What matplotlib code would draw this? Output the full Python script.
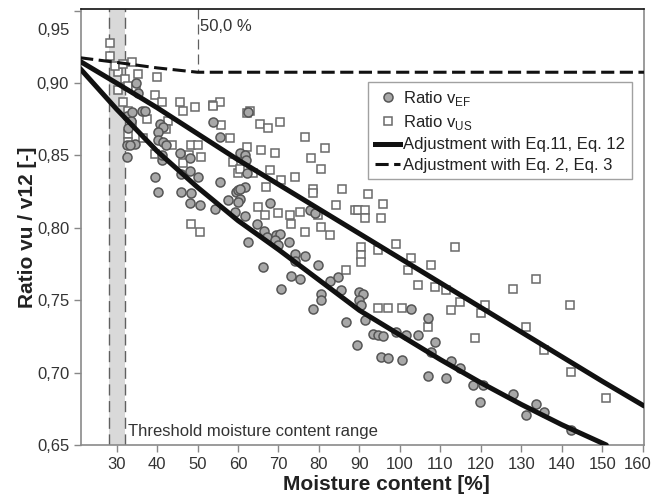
import numpy as np
import matplotlib
matplotlib.use("Agg")
import matplotlib.pyplot as plt
from matplotlib.ticker import FuncFormatter
from matplotlib.lines import Line2D

plt.rcParams['font.family'] = ['Liberation Sans', 'DejaVu Sans']
plt.rcParams['mathtext.fontset'] = 'custom'
plt.rcParams['mathtext.rm'] = 'Liberation Sans'

# ratio v_EF (circles)
ef_x = [32.5, 33.5, 34.9, 35.3, 36.2, 33.7, 37.0, 40.7, 41.5, 40.3, 32.9, 34.5, 40.3, 41.5,
        42.3, 32.5, 33.3, 32.5, 41.1, 41.1, 39.5, 40.3, 45.6, 48.1, 53.9, 55.5, 46.0, 48.1,
        50.2, 46.0, 48.5, 48.1, 50.6, 54.3, 55.5, 57.6, 59.6, 60.4, 59.2, 61.7, 60.0, 60.1,
        61.7, 62.5, 64.6, 66.3, 67.9, 67.1, 69.5, 70.3, 72.5, 60.4, 61.7, 62.0, 62.1, 60.4,
        62.5, 77.7, 79.0, 69.1, 69.9, 74.0, 76.5, 74.0, 79.8, 66.2, 73.2, 75.3, 70.7, 82.7,
        84.7, 85.5, 80.6, 80.6, 78.5, 90.0, 90.9, 90.0, 90.5, 86.8, 91.3, 89.3, 93.4, 94.6,
        95.8, 99.1, 101.6, 104.5, 102.8, 107.0, 108.6, 107.8, 95.4, 97.0, 100.4, 112.7,
        114.8, 107.0, 111.5, 118.0, 120.5, 119.7, 127.9, 131.2, 133.7, 135.7, 142.3]
ef_y = [0.877, 0.874, 0.900, 0.893, 0.881, 0.880, 0.881, 0.872, 0.870, 0.866, 0.869, 0.858,
        0.861, 0.859, 0.857, 0.857, 0.857, 0.849, 0.847, 0.850, 0.835, 0.825, 0.852, 0.848,
        0.873, 0.863, 0.8375, 0.839, 0.835, 0.825, 0.824, 0.817, 0.816, 0.813, 0.832, 0.819,
        0.825, 0.820, 0.811, 0.828, 0.826, 0.818, 0.808, 0.790, 0.803, 0.798, 0.817, 0.794,
        0.795, 0.796, 0.790, 0.852, 0.850, 0.847, 0.838, 0.827, 0.880, 0.812, 0.810, 0.7915,
        0.788, 0.782, 0.7805, 0.777, 0.774, 0.773, 0.767, 0.765, 0.758, 0.763, 0.766, 0.757,
        0.754, 0.750, 0.744, 0.756, 0.754, 0.750, 0.747, 0.735, 0.736, 0.719, 0.727, 0.726,
        0.725, 0.728, 0.726, 0.726, 0.744, 0.7375, 0.7214, 0.7145, 0.711, 0.710, 0.709, 0.708,
        0.703, 0.698, 0.696, 0.6915, 0.6915, 0.680, 0.685, 0.671, 0.678, 0.673, 0.6605]

# ratio v_US (squares)
us_x = [28.3, 28.3, 33.7, 30.4, 32.0, 35.3, 39.9, 32.9, 34.9, 30.4, 39.5, 41.1, 31.6, 32.9,
        37.4, 42.7, 45.6, 46.5, 49.3, 53.9, 55.5, 33.7, 32.9, 42.3, 32.9, 43.6, 48.5, 50.2,
        36.5, 29.5, 31.5, 47.8, 50.8, 46.4, 39.5, 48.5, 50.5, 53.8, 62.9, 62.3, 65.4, 67.4,
        70.3, 76.5, 81.4, 78.1, 80.6, 55.9, 58.0, 62.1, 65.8, 69.1, 58.7, 60.0, 60.4, 63.7,
        67.9, 74.0, 70.7, 78.5, 85.6, 67.0, 78.5, 64.9, 66.6, 69.9, 72.8, 75.3, 73.2, 76.5,
        80.6, 82.7, 79.7, 84.3, 86.8, 88.8, 92.1, 95.8, 89.7, 91.3, 91.3, 95.4, 99.1, 90.5,
        113.5, 90.5, 90.5, 94.5, 102.8, 107.8, 102.0, 104.5, 108.6, 111.5, 114.8, 112.7,
        120.1, 120.9, 94.6, 97.0, 100.4, 107.0, 118.5, 133.7, 127.9, 141.9, 131.2, 135.7,
        142.3, 151.0]
us_y = [0.928, 0.919, 0.9145, 0.9076, 0.903, 0.9065, 0.904, 0.898, 0.895, 0.895, 0.8915,
        0.887, 0.887, 0.881, 0.8755, 0.874, 0.887, 0.881, 0.8834, 0.8846, 0.887, 0.871, 0.865,
        0.8685, 0.859, 0.857, 0.857, 0.857, 0.862, 0.912, 0.913, 0.850, 0.849, 0.845, 0.851,
        0.803, 0.797, 0.884, 0.881, 0.879, 0.872, 0.869, 0.873, 0.863, 0.855, 0.848, 0.841,
        0.871, 0.862, 0.856, 0.8536, 0.852, 0.8455, 0.838, 0.841, 0.838, 0.840, 0.835, 0.833,
        0.827, 0.827, 0.828, 0.824, 0.8145, 0.809, 0.810, 0.809, 0.811, 0.803, 0.797, 0.8007,
        0.795, 0.809, 0.8157, 0.771, 0.812, 0.8237, 0.8168, 0.8122, 0.8122, 0.8065, 0.8065,
        0.789, 0.787, 0.787, 0.781, 0.7766, 0.7845, 0.7789, 0.774, 0.7708, 0.7605, 0.7593,
        0.757, 0.749, 0.7433, 0.741, 0.7467, 0.7444, 0.7444, 0.7444, 0.7317, 0.7237, 0.765,
        0.758, 0.7467, 0.7317, 0.7157, 0.7007, 0.6823]

# fitted curves (Eq.11 / Eq.12 and Eq.2 / Eq.3)
fit_ef_x = [21, 30, 40, 50, 60, 70, 80, 90, 100, 110, 120, 130, 140, 151]
fit_ef_y = [0.910, 0.882, 0.853, 0.828, 0.805, 0.785, 0.764, 0.743, 0.726, 0.709, 0.693,
            0.678, 0.664, 0.650]
fit_us_x = [21, 30, 40, 50, 60, 70, 80, 90, 100, 110, 120, 130, 140, 150, 160.3]
fit_us_y = [0.915, 0.900, 0.883, 0.865, 0.847, 0.830, 0.813, 0.796, 0.779, 0.762, 0.745,
            0.728, 0.711, 0.694, 0.677]
eq2_x = [21, 30, 40, 50, 160.3]
eq2_y = [0.9175, 0.9143, 0.9105, 0.9075, 0.9075]

x_ticks = list(range(30, 161, 10))
y_ticks = [0.65, 0.70, 0.75, 0.80, 0.85, 0.90, 0.95]

fig = plt.figure(figsize=(6.52, 5.01), dpi=100)
ax = fig.add_axes([0.1242, 0.1118, 0.8635, 0.8697])

ax.axvspan(28, 32, color='#d9d9d9', lw=0, zorder=0)
for xv in (28, 32):
    ax.axvline(xv, color='#606060', lw=1.0, ls=(0, (8, 4)), zorder=1)
ax.plot([50, 50], [0.951, 0.9075], color='#606060', lw=0.9, ls=(0, (8, 4)), zorder=1)

ax.plot(us_x, us_y, ls='none', marker='s', ms=6, mfc='white', mec='#6a6a6a', mew=1.1, zorder=3)
ax.plot(ef_x, ef_y, ls='none', marker='o', ms=6.5, mfc='#a8a8a8', mec='#555555', mew=1.1, zorder=3)

ax.plot(fit_ef_x, fit_ef_y, color='#111111', lw=3.6, solid_capstyle='round', zorder=4)
ax.plot(fit_us_x, fit_us_y, color='#111111', lw=3.6, solid_capstyle='round', zorder=4)
ax.plot(eq2_x, eq2_y, color='#111111', lw=2.2, ls=(0, (4.3, 1.8)), zorder=4)

ax.text(50.6, 0.939, '50,0 %', fontsize=12, color='#333333', va='center', ha='left')
ax.text(32.8, 0.659, 'Threshold moisture content range', fontsize=12, color='#333333',
        va='center', ha='left')

ax.set_xlim(21.2, 160.3)
ax.set_ylim(0.65, 0.951)
ax.set_xticks(x_ticks)
ax.set_yticks(y_ticks)

def y_fmt(v, pos):
    if v > 0.949:
        return ''
    return f'{v:.2f}'.replace('.', ',')

def x_fmt(v, pos):
    if v > 159:
        return ''
    return f'{v:.0f}'

ax.yaxis.set_major_formatter(FuncFormatter(y_fmt))
ax.xaxis.set_major_formatter(FuncFormatter(x_fmt))
# the outermost labels sit slightly inside the frame
ax.text(-0.02, 0.9365, '0,95', transform=ax.get_yaxis_transform(), ha='right', va='center',
        fontsize=12, color='#333333')
ax.annotate('160', xy=(160, 0), xycoords=('data', 'axes fraction'), xytext=(-3.5, -9),
            textcoords='offset points', ha='center', va='top', fontsize=12, color='#333333')
ax.tick_params(axis='both', direction='out', length=5, width=1, color='#888888',
               labelcolor='#333333', labelsize=12)
ax.tick_params(axis='x', pad=4)

for side in ('left', 'bottom', 'right'):
    ax.spines[side].set_color('#8a8a8a')
    ax.spines[side].set_linewidth(1.2)
ax.spines['top'].set_color('#111111')
ax.spines['top'].set_linewidth(1.2)

ax.set_xlabel('Moisture content [%]', fontsize=15, fontweight='bold', color='#222222')
ax.set_ylabel('Ratio vu / v12 [-]', fontsize=15, fontweight='bold', color='#222222')
ax.xaxis.set_label_coords(0.542, -0.07)
ax.yaxis.set_label_coords(-0.079, 0.5)

handles = [
    Line2D([], [], ls='none', marker='o', ms=6.5, mfc='#a8a8a8', mec='#555555', mew=1.1),
    Line2D([], [], ls='none', marker='s', ms=6, mfc='white', mec='#6a6a6a', mew=1.1),
    Line2D([], [], color='#111111', lw=3.6),
    Line2D([], [], color='#111111', lw=2.2, ls=(0, (4.3, 1.8))),
]
labels = [r'Ratio v$_{\mathregular{EF}}$', r'Ratio v$_{\mathregular{US}}$',
          'Adjustment with Eq.11, Eq. 12', 'Adjustment with Eq. 2, Eq. 3']
leg = ax.legend(handles, labels, loc='upper right', bbox_to_anchor=(0.979, 0.833),
                fontsize=12, frameon=True, fancybox=False, handlelength=1.5,
                handletextpad=0.2, labelspacing=0.32, borderpad=0.4, borderaxespad=0)
leg.get_frame().set_edgecolor('#8a8a8a')
leg.get_frame().set_linewidth(1.0)
for t in leg.get_texts():
    t.set_color('#222222')

fig.savefig('out.png', dpi=100)
